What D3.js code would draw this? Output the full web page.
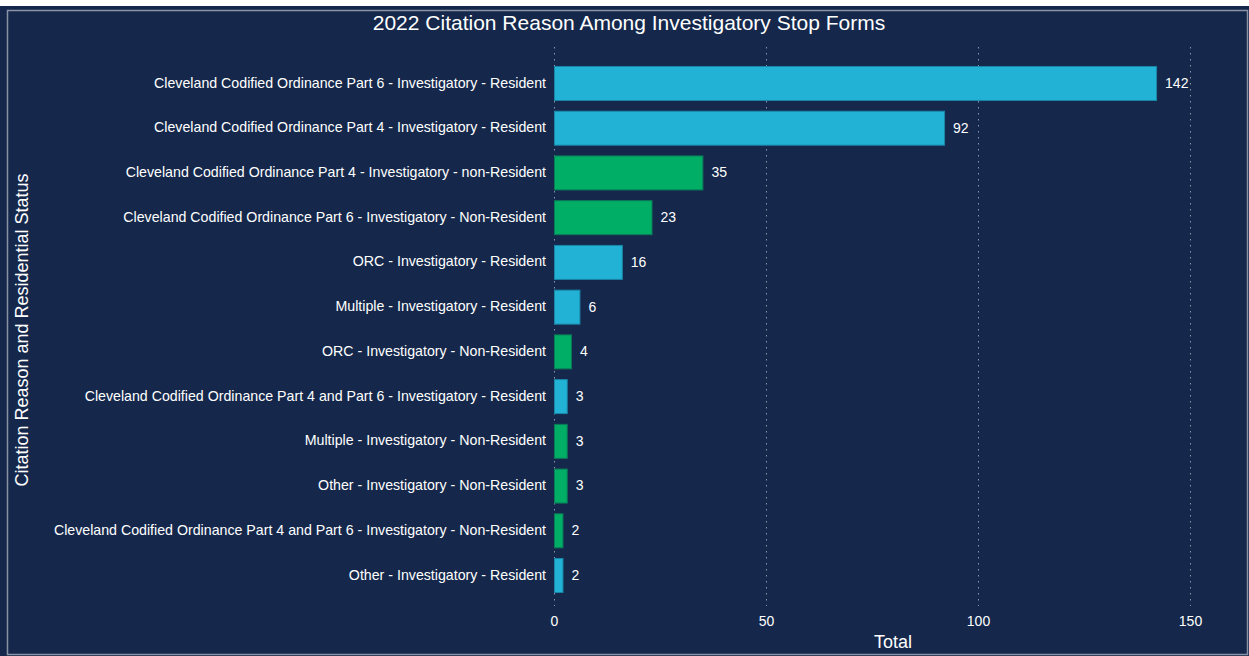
<!DOCTYPE html>
<html>
<head>
<meta charset="utf-8">
<script src="https://cdn.jsdelivr.net/npm/d3@7"></script>
<style>
  html, body { margin: 0; padding: 0; background: #fff; }
  #chart { width: 1249px; height: 656px; }
  text { font-family: "Liberation Sans", Arial, sans-serif; }
</style>
</head>
<body>
<div id="chart"></div>
<script>
const categories = [
  'Cleveland Codified Ordinance Part 6 - Investigatory - Resident',
  'Cleveland Codified Ordinance Part 4 - Investigatory - Resident',
  'Cleveland Codified Ordinance Part 4 - Investigatory - non-Resident',
  'Cleveland Codified Ordinance Part 6 - Investigatory - Non-Resident',
  'ORC - Investigatory - Resident',
  'Multiple - Investigatory - Resident',
  'ORC - Investigatory - Non-Resident',
  'Cleveland Codified Ordinance Part 4 and Part 6 - Investigatory - Resident',
  'Multiple - Investigatory - Non-Resident',
  'Other - Investigatory - Non-Resident',
  'Cleveland Codified Ordinance Part 4 and Part 6 - Investigatory - Non-Resident',
  'Other - Investigatory - Resident'
];
const totals = [142, 92, 35, 23, 16, 6, 4, 3, 3, 3, 2, 2];
const status = ['Resident', 'Resident', 'Non-Resident', 'Non-Resident', 'Resident', 'Resident',
  'Non-Resident', 'Resident', 'Non-Resident', 'Non-Resident', 'Non-Resident', 'Resident'];
const xTicks = [0, 50, 100, 150];

const width = 1249;
const height = 656;
const margin = { top: 60.6, bottom: 58.6, left: 554, right: 59 };

const fills = { 'Resident': '#22b2d6', 'Non-Resident': '#00ae65' };
const strokes = { 'Resident': '#1a86a8', 'Non-Resident': '#0b7a58' };

const data = categories.map((c, i) => ({ cat: c, total: totals[i], status: status[i] }));

const svg = d3.select('#chart')
  .append('svg')
  .attr('width', width)
  .attr('height', height);

// panel
svg.append('rect')
  .attr('x', 0).attr('y', 6)
  .attr('width', width).attr('height', height - 6)
  .attr('fill', '#15284b');
svg.append('rect')
  .attr('x', 7.5).attr('y', 10.5)
  .attr('width', width - 9).attr('height', height - 12)
  .attr('fill', 'none')
  .attr('stroke', '#8a93a6')
  .attr('stroke-width', 1.5);

const x = d3.scaleLinear()
  .domain([0, 150])
  .range([margin.left, width - margin.right]);

const y = d3.scaleBand()
  .domain(categories)
  .range([margin.top, height - margin.bottom])
  .paddingInner(0.24)
  .paddingOuter(0.12);

// grid
svg.append('g')
  .selectAll('line')
  .data(xTicks)
  .join('line')
    .attr('x1', d => x(d) + 0.5)
    .attr('x2', d => x(d) + 0.5)
    .attr('y1', 47)
    .attr('y2', 606)
    .attr('stroke', '#8c96aa')
    .attr('stroke-width', 1)
    .attr('stroke-dasharray', '1.5,4.5');

// bars
svg.append('g')
  .selectAll('rect')
  .data(data)
  .join('rect')
    .attr('x', x(0) + 0.5)
    .attr('y', d => y(d.cat) + 0.5)
    .attr('width', d => x(d.total) - x(0))
    .attr('height', y.bandwidth())
    .attr('fill', d => fills[d.status])
    .attr('stroke', d => strokes[d.status])
    .attr('stroke-width', 1);

// value labels
svg.append('g')
  .selectAll('text')
  .data(data)
  .join('text')
    .attr('x', d => x(d.total) + 9)
    .attr('y', d => y(d.cat) + y.bandwidth() / 2)
    .attr('dy', '0.35em')
    .attr('fill', '#ffffff')
    .attr('font-size', '14px')
    .text(d => d.total);

// y axis labels
const yAxis = g => g
  .attr('transform', `translate(${margin.left - 2},0)`)
  .call(d3.axisLeft(y).tickSize(0).tickPadding(6))
  .call(g => g.select('.domain').remove())
  .call(g => g.selectAll('text')
    .attr('fill', '#ffffff')
    .attr('font-size', '14.2px')
    .attr('font-family', '"Liberation Sans", Arial, sans-serif'));

// x axis labels
const xAxis = g => g
  .attr('transform', `translate(0,${606})`)
  .call(d3.axisBottom(x).tickValues(xTicks).tickSize(0).tickPadding(10))
  .call(g => g.select('.domain').remove())
  .call(g => g.selectAll('text')
    .attr('fill', '#ffffff')
    .attr('font-size', '14px')
    .attr('font-family', '"Liberation Sans", Arial, sans-serif'));

svg.append('g').call(yAxis);
svg.append('g').call(xAxis);

// titles
svg.append('text')
  .attr('x', 629)
  .attr('y', 30)
  .attr('text-anchor', 'middle')
  .attr('fill', '#ffffff')
  .attr('font-size', '21px')
  .text('2022 Citation Reason Among Investigatory Stop Forms');

svg.append('text')
  .attr('x', 893)
  .attr('y', 648)
  .attr('text-anchor', 'middle')
  .attr('fill', '#ffffff')
  .attr('font-size', '18px')
  .text('Total');

svg.append('text')
  .attr('transform', 'translate(28,330) rotate(-90)')
  .attr('text-anchor', 'middle')
  .attr('fill', '#ffffff')
  .attr('font-size', '18px')
  .text('Citation Reason and Residential Status');
</script>
</body>
</html>
